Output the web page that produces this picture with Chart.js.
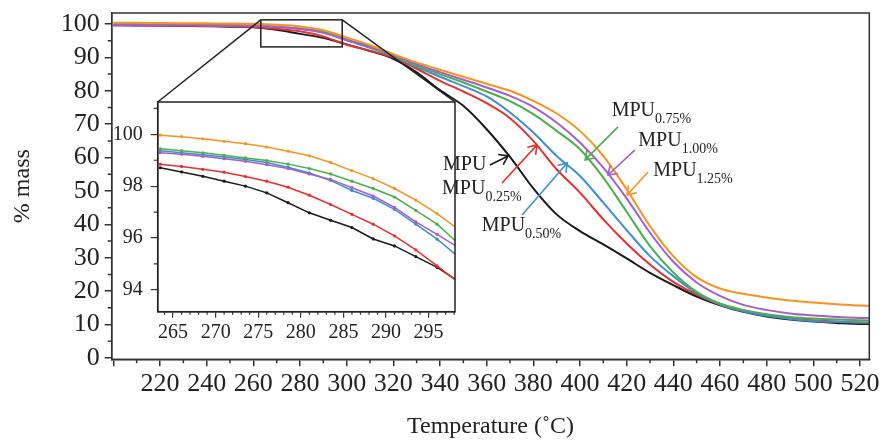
<!DOCTYPE html>
<html>
<head>
<meta charset="utf-8">
<script src="https://cdn.jsdelivr.net/npm/chart.js@4.4.1/dist/chart.umd.min.js"></script>
<style>
  html, body { margin: 0; padding: 0; background: #fff; }
  #wrap { position: relative; width: 883px; height: 445px; }
  #wrap canvas { position: absolute; left: 0; top: 0; }
</style>
</head>
<body>
<div id="wrap">
  <canvas id="mainChart" width="883" height="445"></canvas>
  <canvas id="insetChart" width="883" height="445"></canvas>
</div>
<script>
// main TGA curves, % mass vs temperature
var temps = [200,210,220,230,240,250,260,270,280,290,300,310,320,330,340,350,360,370,380,390,400,410,420,430,440,450,460,470,480,490,500,510,520,525];
var mpu     = [99.62,99.58,99.52,99.42,99.32,99.2,99.0,98.25,97.05,95.85,93.9,91.9,89.6,85.5,80.2,75.5,68.5,60.2,50.8,43.0,38.0,34.0,29.8,25.5,21.8,18.4,15.8,13.8,12.4,11.5,10.9,10.5,10.2,10.2];
var mpu025  = [99.62,99.6,99.56,99.5,99.42,99.32,99.12,98.55,97.85,96.3,93.8,92.0,90.0,86.6,83.0,79.8,76.3,71.8,65.0,56.5,49.5,41.5,34.3,28.0,22.8,19.0,16.0,14.0,12.8,11.9,11.3,10.9,10.6,10.5];
var mpu050  = [99.85,99.82,99.78,99.72,99.66,99.6,99.5,99.15,98.55,97.55,95.1,92.9,90.3,87.2,84.2,81.4,78.3,73.5,67.5,60.5,54.5,46.5,38.3,30.5,24.5,19.4,16.0,14.0,12.6,11.7,11.1,10.8,10.6,10.6];
var mpu075  = [99.92,99.9,99.87,99.82,99.77,99.7,99.55,99.2,98.62,97.7,95.4,93.2,90.5,87.6,85.0,82.5,79.8,76.9,73.0,68.0,62.5,54.0,43.8,33.5,25.6,19.8,16.3,14.4,13.1,12.3,11.8,11.5,11.3,11.2];
var mpu100  = [99.72,99.7,99.67,99.62,99.57,99.5,99.4,99.08,98.55,97.35,95.2,93.3,90.7,88.0,85.6,83.3,81.0,78.5,75.2,70.5,64.5,57.0,47.8,37.5,28.8,22.6,18.6,15.9,14.4,13.3,12.7,12.3,12.0,11.9];
var mpu125  = [100.4,100.35,100.3,100.25,100.2,100.15,100.05,99.78,99.25,98.15,96.0,93.7,91.0,88.5,86.3,84.2,82.1,80.0,77.0,73.2,68.0,60.5,50.5,39.5,30.5,24.2,20.8,19.2,18.1,17.2,16.6,16.1,15.7,15.6];

// zoomed inset 263-298 C
var insetTemps = [263.5,266,268.5,271,273.5,276,278.5,281,283.5,286,288.5,291,293.5,296,298.5];
var inMpu    = [98.71,98.55,98.38,98.19,98.00,97.74,97.36,96.97,96.68,96.40,95.96,95.69,95.28,94.86,94.32];
var inMpu025 = [98.85,98.76,98.65,98.54,98.37,98.19,97.96,97.65,97.29,96.91,96.53,96.08,95.54,94.92,94.28];
var inMpu050 = [99.37,99.29,99.21,99.13,99.03,98.91,98.73,98.51,98.22,97.83,97.53,97.10,96.53,95.95,95.27];
var inMpu075 = [99.44,99.37,99.29,99.19,99.09,98.99,98.85,98.68,98.47,98.19,97.91,97.58,97.06,96.53,95.78];
var inMpu100 = [99.29,99.23,99.15,99.06,98.96,98.83,98.68,98.47,98.26,97.94,97.62,97.18,96.62,96.14,95.63];
var inMpu125 = [99.97,99.91,99.83,99.73,99.64,99.51,99.35,99.17,98.91,98.60,98.29,97.91,97.46,96.94,96.33];

// ticks (major ones carry labels)
var xTicks = [];
for (var t = 200; t <= 520; t += 10) xTicks.push(t);
var yTicks = [];
for (var m = 0; m <= 100; m += 5) yTicks.push(m);
var insetXTicks = [];
for (var u = 264; u <= 298; u++) insetXTicks.push(u);
var insetYTicks = [94, 95, 96, 97, 98, 99, 100, 101];

function xMajor(v) { return v % 20 === 0; }
function yMajor(v) { return v % 10 === 0; }
function ixMajor(v) { return v % 5 === 0; }
function iyMajor(v) { return v % 2 === 0; }

var colors = {
  mpu: '#1a1a1a', mpu025: '#e8302e', mpu050: '#3d8fd1',
  mpu075: '#4cae4c', mpu100: '#a55fc9', mpu125: '#f7941d'
};

// label text anchor, arrow tail, arrow tip (data units of the main chart)
var notes = [
  { main: 'MPU', sub: '',      key: 'mpu',    at: [341.3, 57.8], from: [361.4, 57.8], to: [369.2, 60.5] },
  { main: 'MPU', sub: '0.25%', key: 'mpu025', at: [340.9, 50.6], from: [366.6, 52.4], to: [381.6, 63.8] },
  { main: 'MPU', sub: '0.50%', key: 'mpu050', at: [357.9, 39.5], from: [375.2, 42.8], to: [394.5, 58.4] },
  { main: 'MPU', sub: '0.75%', key: 'mpu075', at: [413.6, 74.0], from: [416.3, 69.2], to: [402.2, 59.3] },
  { main: 'MPU', sub: '1.00%', key: 'mpu100', at: [425.0, 65.0], from: [423.6, 62.3], to: [412.0, 54.8] },
  { main: 'MPU', sub: '1.25%', key: 'mpu125', at: [431.4, 56.0], from: [429.2, 55.7], to: [420.2, 48.8] }
];

var insetRange = { xMin: 263.2, xMax: 298.1, yMin: 93.15, yMax: 101.25 };

var FONT = "'Liberation Serif', 'Times New Roman', serif";
var AXIS = '#333';
Chart.defaults.font.family = FONT;
Chart.defaults.color = '#222';

function pts(xs, ys) {
  return xs.map(function (x, i) { return { x: x, y: ys[i] }; });
}

// keep chart area exactly where the layout padding puts it
function noOverhang(s) {
  s.paddingTop = 0; s.paddingBottom = 0; s.paddingLeft = 0; s.paddingRight = 0;
}

// only major ticks are drawn by Chart.js, the short ones come from drawMinor
function majorColor(test) {
  return function (c) { return test(c.tick.value) ? AXIS : 'rgba(0,0,0,0)'; };
}

function drawMinor(chart, id, values, test, len, width) {
  var s = chart.scales[id], a = chart.chartArea, ctx = chart.ctx;
  ctx.save();
  ctx.strokeStyle = AXIS;
  ctx.lineWidth = width;
  ctx.beginPath();
  values.forEach(function (v) {
    if (test(v)) return;
    var p = s.getPixelForValue(v);
    if (s.isHorizontal()) { ctx.moveTo(p, a.bottom); ctx.lineTo(p, a.bottom + len); }
    else { ctx.moveTo(a.left, p); ctx.lineTo(a.left - len, p); }
  });
  ctx.stroke();
  ctx.restore();
}

function arrow(ctx, x1, y1, x2, y2, color) {
  var a = Math.atan2(y2 - y1, x2 - x1);
  var h = 10;
  ctx.save();
  ctx.strokeStyle = color;
  ctx.lineWidth = 1.6;
  ctx.beginPath();
  ctx.moveTo(x1, y1);
  ctx.lineTo(x2, y2);
  ctx.moveTo(x2 - h * Math.cos(a - 0.6), y2 - h * Math.sin(a - 0.6));
  ctx.lineTo(x2, y2);
  ctx.lineTo(x2 - h * Math.cos(a + 0.6), y2 - h * Math.sin(a + 0.6));
  ctx.stroke();
  ctx.restore();
}

var frame = {
  id: 'frame',
  afterDraw: function (chart) {
    var ctx = chart.ctx, a = chart.chartArea;
    drawMinor(chart, 'x', xTicks, xMajor, 4, 1.5);
    drawMinor(chart, 'y', yTicks, yMajor, 4, 1.5);
    ctx.save();
    ctx.strokeStyle = AXIS;
    ctx.lineWidth = 1.5;
    ctx.strokeRect(a.left, a.top, a.right - a.left, a.bottom - a.top);
    ctx.restore();
  }
};

var mainSeries = [
  ['MPU1.25%', mpu125, colors.mpu125],
  ['MPU1.00%', mpu100, colors.mpu100],
  ['MPU0.75%', mpu075, colors.mpu075],
  ['MPU0.50%', mpu050, colors.mpu050],
  ['MPU0.25%', mpu025, colors.mpu025],
  ['MPU', mpu, colors.mpu]
];

var mainChart = new Chart(document.getElementById('mainChart'), {
  type: 'line',
  data: {
    datasets: mainSeries.map(function (s) {
      return {
        label: s[0], data: pts(temps, s[1]), borderColor: s[2],
        borderWidth: 2, pointRadius: 0, cubicInterpolationMode: 'monotone', fill: false
      };
    })
  },
  options: {
    responsive: false,
    animation: false,
    layout: { padding: { left: 0, top: 13, right: 13.7, bottom: 4 } },
    plugins: { legend: { display: false }, tooltip: { enabled: false } },
    scales: {
      x: {
        type: 'linear', min: 199.3, max: 524,
        afterFit: function (s) { s.height = 81.7; noOverhang(s); },
        afterBuildTicks: function (s) { s.ticks = xTicks.map(function (v) { return { value: v }; }); },
        ticks: {
          autoSkip: false, maxRotation: 0, padding: 2, color: '#222', font: { size: 26 },
          callback: function (v) { return (xMajor(v) && v >= 220) ? String(v) : ''; }
        },
        grid: { drawOnChartArea: false, tickLength: 7, color: AXIS, tickColor: majorColor(xMajor), lineWidth: 1.5 },
        border: { color: AXIS, width: 1.5 },
        title: { display: true, text: 'Temperature (˚C)', font: { size: 24 }, color: '#222', padding: 0 }
      },
      y: {
        type: 'linear', min: -0.4, max: 103.3,
        afterFit: function (s) { s.width = 111.7; noOverhang(s); },
        afterBuildTicks: function (s) { s.ticks = yTicks.map(function (v) { return { value: v }; }); },
        ticks: {
          autoSkip: false, padding: 5, color: '#222', font: { size: 26 },
          callback: function (v) { return yMajor(v) ? String(v) : ''; }
        },
        grid: { drawOnChartArea: false, tickLength: 7, color: AXIS, tickColor: majorColor(yMajor), lineWidth: 1.5 },
        border: { color: AXIS, width: 1.5 },
        title: { display: true, text: '% mass', font: { size: 24 }, color: '#222', padding: { top: 8, bottom: 0 } }
      }
    }
  },
  plugins: [frame]
});

// inset background, zoom box, connectors and the curve labels (drawn on top of everything)
var insetDecor = {
  id: 'insetDecor',
  beforeDraw: function (chart) {
    var ctx = chart.ctx, a = chart.chartArea;
    ctx.save();
    ctx.fillStyle = '#fff';
    ctx.fillRect(a.left, a.top, a.right - a.left, a.bottom - a.top);
    ctx.restore();
  },
  afterDraw: function (chart) {
    var ctx = chart.ctx, a = chart.chartArea;
    var mx = mainChart.scales.x, my = mainChart.scales.y;
    var rl = mx.getPixelForValue(insetRange.xMin), rr = mx.getPixelForValue(insetRange.xMax);
    var rt = my.getPixelForValue(insetRange.yMax), rb = my.getPixelForValue(insetRange.yMin);
    drawMinor(chart, 'x', insetXTicks, ixMajor, 3, 1.2);
    drawMinor(chart, 'y', insetYTicks, iyMajor, 4, 1.2);
    ctx.save();
    ctx.strokeStyle = '#222';
    ctx.lineWidth = 1.5;
    ctx.strokeRect(a.left, a.top, a.right - a.left, a.bottom - a.top);
    ctx.strokeRect(rl, rt, rr - rl, rb - rt);
    ctx.beginPath();
    ctx.moveTo(rl, rt); ctx.lineTo(a.left, a.top);
    ctx.moveTo(rr, rt); ctx.lineTo(a.right, a.top);
    ctx.stroke();

    notes.forEach(function (n) {
      arrow(ctx, mx.getPixelForValue(n.from[0]), my.getPixelForValue(n.from[1]),
        mx.getPixelForValue(n.to[0]), my.getPixelForValue(n.to[1]), colors[n.key]);
      var x = mx.getPixelForValue(n.at[0]), y = my.getPixelForValue(n.at[1]);
      ctx.fillStyle = '#222';
      ctx.textBaseline = 'middle';
      ctx.textAlign = 'left';
      ctx.font = '20px ' + FONT;
      ctx.fillText(n.main, x, y);
      if (n.sub) {
        var w = ctx.measureText(n.main).width;
        ctx.font = '14px ' + FONT;
        ctx.fillText(n.sub, x + w, y + 8);
      }
    });
    ctx.restore();
  }
};

var insetSeries = [
  ['MPU1.25%', inMpu125, colors.mpu125],
  ['MPU1.00%', inMpu100, colors.mpu100],
  ['MPU0.75%', inMpu075, colors.mpu075],
  ['MPU0.50%', inMpu050, colors.mpu050],
  ['MPU0.25%', inMpu025, colors.mpu025],
  ['MPU', inMpu, colors.mpu]
];

var insetChart = new Chart(document.getElementById('insetChart'), {
  type: 'line',
  data: {
    datasets: insetSeries.map(function (s) {
      return {
        label: s[0], data: pts(insetTemps, s[1]), borderColor: s[2], backgroundColor: s[2],
        borderWidth: 1.5, pointRadius: 1.6, pointBorderWidth: 0, tension: 0, fill: false
      };
    })
  },
  options: {
    responsive: false,
    animation: false,
    layout: { padding: { left: 100, top: 102, right: 428, bottom: 103.3 } },
    plugins: { legend: { display: false }, tooltip: { enabled: false } },
    scales: {
      x: {
        type: 'linear', min: insetRange.xMin, max: insetRange.xMax,
        afterFit: function (s) { s.height = 30; noOverhang(s); },
        afterBuildTicks: function (s) { s.ticks = insetXTicks.map(function (v) { return { value: v }; }); },
        ticks: {
          autoSkip: false, maxRotation: 0, padding: 3, color: '#222', font: { size: 20 },
          callback: function (v) { return ixMajor(v) ? String(v) : ''; }
        },
        grid: { drawOnChartArea: false, tickLength: 6, color: AXIS, tickColor: majorColor(ixMajor), lineWidth: 1.2 },
        border: { color: AXIS, width: 1.5 }
      },
      y: {
        type: 'linear', min: insetRange.yMin, max: insetRange.yMax,
        afterFit: function (s) { s.width = 57.7; noOverhang(s); },
        afterBuildTicks: function (s) { s.ticks = insetYTicks.map(function (v) { return { value: v }; }); },
        ticks: {
          autoSkip: false, padding: 8, color: '#222', font: { size: 20 },
          callback: function (v) { return iyMajor(v) ? String(v) : ''; }
        },
        grid: { drawOnChartArea: false, tickLength: 7, color: AXIS, tickColor: majorColor(iyMajor), lineWidth: 1.2 },
        border: { color: AXIS, width: 1.5 }
      }
    }
  },
  plugins: [insetDecor]
});
</script>
</body>
</html>
